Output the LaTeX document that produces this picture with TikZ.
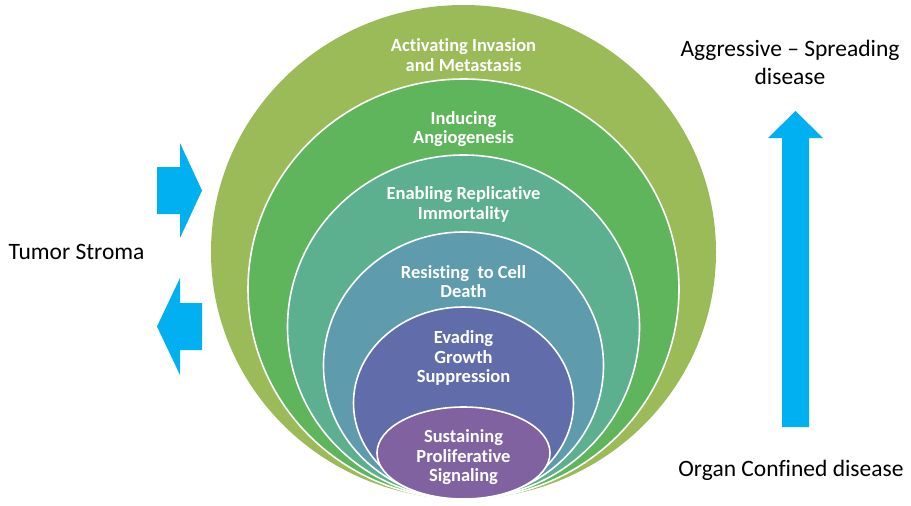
\documentclass[tikz,border=0pt]{standalone}
\usepackage{fontspec}
\setmainfont{Carlito}[Ligatures={NoCommon}]
\usetikzlibrary{shapes.geometric}
\definecolor{ringA}{HTML}{9BBB59}
\definecolor{ringB}{HTML}{5FB55C}
\definecolor{ringC}{HTML}{5CB08F}
\definecolor{ringD}{HTML}{5E9BAD}
\definecolor{ringE}{HTML}{616DAA}
\definecolor{ringF}{HTML}{8062A1}
\definecolor{arrowblue}{HTML}{00B0F0}
\begin{document}
\begin{tikzpicture}[x=1pt,y=-1pt,
  ring/.style={ellipse, draw=white, line width=1.6pt, inner sep=0pt},
  hallmark/.style={align=center, text=white, font=\fontsize{18.5}{19.5}\selectfont\bfseries},
  sidetext/.style={align=center, text=black, font=\fontsize{23.5}{28}\selectfont},
  blockarrow/.style={fill=arrowblue, draw=none}]
  \useasboundingbox (0,0) rectangle (911,506);

  % nested hallmark rings, all resting on a common bottom line
  \node[ring, fill=ringA, draw=none, minimum width=505pt, minimum height=494pt] (r1) at (463.5,252) {};
  \node[ring, fill=ringB, minimum width=431pt, minimum height=420pt] (r2) at (463.5,289) {};
  \node[ring, fill=ringC, minimum width=352pt, minimum height=344pt] (r3) at (463.5,327) {};
  \node[ring, fill=ringD, minimum width=280pt, minimum height=267pt] (r4) at (463.5,365.5) {};
  \node[ring, fill=ringE, minimum width=220pt, minimum height=192pt] (r5) at (463.5,403) {};
  \node[ring, fill=ringF, minimum width=173pt, minimum height=92pt] (r6) at (463.5,453) {};

  % ring labels
  \node[hallmark] (l1) at (463.5,55) {Activating Invasion\\and Metastasis};
  \node[hallmark] (l2) at (463.5,129) {Inducing\\Angiogenesis};
  \node[hallmark] (l3) at (463.5,204.5) {Enabling Replicative\\Immortality};
  \node[hallmark] (l4) at (463.5,281.5) {Resisting\ \ to Cell\\Death};
  \node[hallmark] (l5) at (463.5,358) {Evading\\Growth\\Suppression};
  \node[hallmark] (l6) at (463.5,457.5) {Sustaining\\Proliferative\\Signaling};

  % side labels
  \node[sidetext] (stroma) at (76.5,252) {Tumor Stroma};
  \node[sidetext] (aggr) at (790,62) {Aggressive -- Spreading\\disease};
  \node[sidetext] (organ) at (791,470) {Organ Confined disease};

  % exchange arrows between stroma and tumour
  \fill[blockarrow] (157,167) -- (180,167) -- (180,143) -- (202,190.5)
    -- (180,238) -- (180,214) -- (157,214) -- cycle;
  \fill[blockarrow] (202,303) -- (180,303) -- (180,278) -- (157,326.5)
    -- (180,375) -- (180,350) -- (202,350) -- cycle;

  % progression arrow
  \fill[blockarrow] (782,427) -- (782,138) -- (768,138) -- (795.5,111)
    -- (823,138) -- (809,138) -- (809,427) -- cycle;
\end{tikzpicture}
\end{document}
